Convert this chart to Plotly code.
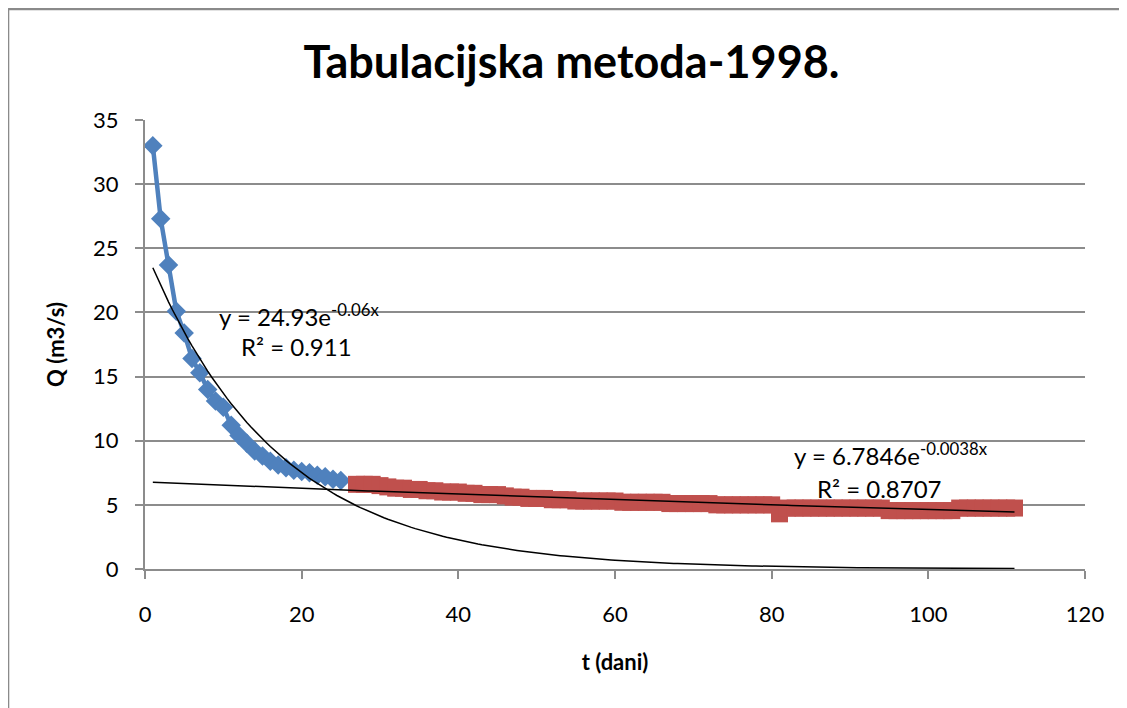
import numpy as np
import plotly.graph_objects as go

# ---- data ----
blue_t = list(range(1, 26))
blue_q = [33.0, 27.3, 23.7, 20.1, 18.4, 16.4, 15.3, 14.0, 13.1, 12.6, 11.2, 10.4, 9.8,
          9.2, 8.8, 8.4, 8.1, 7.9, 7.7, 7.6, 7.5, 7.3, 7.2, 7.0, 6.9]

red_t = list(range(27, 112))
red_q = [6.6, 6.6, 6.6, 6.5, 6.4, 6.3, 6.3, 6.2, 6.2, 6.1, 6.1, 6.0, 6.0, 6.0,   # 27-40
         5.9, 5.9, 5.8, 5.8, 5.8, 5.7, 5.6, 5.6, 5.5, 5.5,                        # 41-50
         5.5, 5.4, 5.4, 5.4, 5.3, 5.3, 5.3, 5.3, 5.3, 5.3,                        # 51-60
         5.2, 5.2, 5.2, 5.2, 5.2, 5.2, 5.1, 5.1, 5.1, 5.1,                        # 61-70
         5.1, 5.1, 5.0, 5.0, 5.0, 5.0, 5.0, 5.0, 5.0, 5.0,                        # 71-80
         4.3, 4.75, 4.75, 4.75, 4.75, 4.75, 4.75, 4.75, 4.75, 4.75,               # 81-90
         4.75, 4.75, 4.75, 4.75, 4.55, 4.55, 4.55, 4.55, 4.55, 4.55,              # 91-100
         4.55, 4.55, 4.55, 4.75, 4.75, 4.75, 4.75, 4.75, 4.75, 4.75, 4.75]        # 101-111

# trendline coefficients (shown on chart)
blue_a, blue_b = 24.93, -0.06
red_a, red_b = 6.7846, -0.0038
trend_t = np.linspace(1, 111, 221)

x_ticks = [0, 20, 40, 60, 80, 100, 120]
y_ticks = [0, 5, 10, 15, 20, 25, 30, 35]

FONT = "Lato"
GRID = "#8c8c8c"

fig = go.Figure()

fig.add_trace(go.Scatter(
    x=blue_t, y=blue_q, mode="lines+markers",
    line=dict(color="#4F81BD", width=4.5),
    marker=dict(symbol="diamond", size=15, color="#4F81BD"),
    showlegend=False))

fig.add_trace(go.Scatter(
    x=red_t, y=red_q, mode="lines+markers",
    line=dict(color="#C0504D", width=4.5),
    marker=dict(symbol="square", size=17, color="#C0504D"),
    showlegend=False))

fig.add_trace(go.Scatter(
    x=trend_t, y=blue_a * np.exp(blue_b * trend_t), mode="lines",
    line=dict(color="black", width=1.5), showlegend=False))
fig.add_trace(go.Scatter(
    x=trend_t, y=red_a * np.exp(red_b * trend_t), mode="lines",
    line=dict(color="black", width=1.5), showlegend=False))

ann_font = dict(family=FONT, size=24, color="black")
annotations = [
    dict(x=9.2, y=19.8, text="y = 24.93e<sup>-0.06x</sup>", xanchor="left"),
    dict(x=19.4, y=17.35, text="R² = 0.911", xanchor="center"),
    dict(x=82.6, y=8.95, text="y = 6.7846e<sup>-0.0038x</sup>", xanchor="left"),
    dict(x=93.8, y=6.3, text="R² = 0.8707", xanchor="center"),
]
for a in annotations:
    a.update(xref="x", yref="y", showarrow=False, yanchor="middle", font=ann_font)

# chart area border (left + top visible)
shapes = [
    dict(type="line", xref="paper", yref="paper", x0=-0.1457, x1=-0.1457,
         y0=-0.35, y1=1.2472, line=dict(color="#8a8a8a", width=2.5)),
    dict(type="line", xref="paper", yref="paper", x0=-0.1457, x1=1.1,
         y0=1.2472, y1=1.2472, line=dict(color="#8a8a8a", width=2.5)),
]

# page body has an 8px margin: offset margins so the plot area lands at
# x 145..1085, y 120..569 in the window
fig.update_layout(
    width=1127, height=708,
    margin=dict(l=137, r=50, t=112, b=147),
    paper_bgcolor="white", plot_bgcolor="white",
    title=dict(text="<b>Tabulacijska metoda-1998.</b>", x=0.5, xanchor="center",
               xref="container", y=0.924, yanchor="middle",
               font=dict(family=FONT, size=45, color="black")),
    font=dict(family=FONT, size=22, color="black"),
    annotations=annotations,
    shapes=shapes,
)

fig.update_xaxes(
    range=[0, 120], tickvals=x_ticks, ticktext=[str(v) for v in x_ticks],
    showgrid=False, showline=True, linecolor=GRID, linewidth=2,
    ticks="outside", ticklen=8, tickcolor=GRID, tickwidth=2,
    ticklabelstandoff=17,
    tickfont=dict(family=FONT, size=22), zeroline=False,
    title=dict(text="<b>t (dani)</b>", font=dict(family=FONT, size=22), standoff=28),
)
fig.update_yaxes(
    range=[0, 35], tickvals=y_ticks, ticktext=[str(v) for v in y_ticks],
    showgrid=True, gridcolor=GRID, gridwidth=2,
    showline=True, linecolor=GRID, linewidth=2,
    ticks="outside", ticklen=8, tickcolor=GRID, tickwidth=2,
    ticklabelstandoff=12,
    tickfont=dict(family=FONT, size=22), zeroline=False,
    title=dict(text="<b>Q (m3/s)</b>", font=dict(family=FONT, size=22), standoff=22),
)

fig.write_html("out.html")
